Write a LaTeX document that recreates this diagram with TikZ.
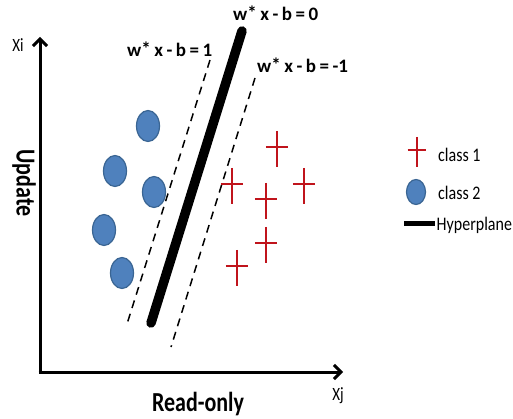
\documentclass[tikz,border=0pt]{standalone}
\usepackage{fontspec}
\setmainfont{Carlito}
\usetikzlibrary{arrows.meta,shapes.geometric}
\definecolor{dotblue}{HTML}{4F81BD}
\definecolor{dotedge}{HTML}{3A6593}
\definecolor{crossred}{HTML}{C0141C}
\newcommand{\tall}[2][1.25]{\scalebox{1}[#1]{#2}}
\newcommand{\eqtext}[1]{w\raisebox{1.5pt}{*}\hspace{3.5pt}x\hspace{3.5pt}-\hspace{3.5pt}b\hspace{3.5pt}=\hspace{3.5pt}#1}
\tikzset{
  axis/.style={line width=3pt,-{Straight Barb[length=7pt,width=14pt,line width=3pt]}},
  dot/.style={ellipse,fill=dotblue,draw=dotedge,line width=1.2pt,minimum width=23pt,minimum height=31pt,inner sep=0pt},
  plus/.style={minimum width=#1*0.62,minimum height=#1,inner sep=0pt,
    path picture={\draw[crossred,line width=2pt]
      (path picture bounding box.north) -- (path picture bounding box.south)
      ([yshift=2pt]path picture bounding box.west) -- ([yshift=2pt]path picture bounding box.east);}},
  plus/.default=36pt,
  hyper/.style={line width=9.5pt,line cap=round},
  margin/.style={line width=1.5pt,dash pattern=on 8pt off 6pt},
  eqlabel/.style={font=\fontsize{19}{21}\selectfont\bfseries,inner sep=0pt,anchor=base west},
  axlabel/.style={font=\fontsize{22}{24}\selectfont\bfseries,inner sep=0pt},
  varlabel/.style={font=\fontsize{15}{17}\selectfont,inner sep=0pt},
  leg/.style={font=\fontsize{16}{18}\selectfont,inner sep=0pt,anchor=base west}
}
\begin{document}
\begin{tikzpicture}[x=1pt,y=-1pt]
\useasboundingbox (0,0) rectangle (513,419);
% axes
\coordinate (O) at (40,372);
\coordinate (ytop) at (40,37);
\coordinate (xend) at (343,372);
\draw[axis] (O) -- (ytop);
\draw[axis] ([xshift=-1.5pt]O) -- (xend);
\node[varlabel] (xi) at (18,45) {\tall{Xi}};
\node[varlabel] (xj) at (338,396) {\tall{Xj}};
\node[axlabel,rotate=-90] (upd) at (24,183) {\tall{Update}};
\node[axlabel,anchor=base] (ro) at (198,411) {\tall{Read-only}};
% hyperplane and margins
\coordinate (h1) at (242,31);
\coordinate (h2) at (151,323);
\coordinate (l1) at (210,60);
\coordinate (l2) at (127,324);
\coordinate (r1) at (255,78);
\coordinate (r2) at (171,347);
\draw[margin] (l1) -- (l2);
\draw[margin] (r1) -- (r2);
\draw[hyper] (h1) -- (h2);
\node[eqlabel] (e0) at (233,21) {\eqtext{0}};
\node[eqlabel] (e1) at (127,57) {\eqtext{1}};
\node[eqlabel] (e2) at (257,73) {\eqtext{-1}};
% class 2 dots
\node[dot] (d1) at (148,126) {};
\node[dot] (d2) at (115,171) {};
\node[dot] (d3) at (154,192) {};
\node[dot] (d4) at (104,230) {};
\node[dot] (d5) at (122,273) {};
% class 1 crosses
\node[plus] (p1) at (277,149) {};
\node[plus] (p2) at (232,186) {};
\node[plus] (p3) at (304,186) {};
\node[plus] (p4) at (266,201) {};
\node[plus] (p5) at (266,245) {};
\node[plus] (p6) at (237,268) {};
% legend
\node[plus=30pt] (lp) at (417,152) {};
\node[leg] (lt1) at (438,162) {\tall[1.2]{class 1}};
\node[dot,minimum width=19pt,minimum height=25pt] (ld) at (416,192) {};
\node[leg] (lt2) at (438,200) {\tall[1.2]{class 2}};
\coordinate (lh1) at (404,224);
\coordinate (lh2) at (435,224);
\draw[line width=5pt] (lh1) -- (lh2);
\node[leg] (lt3) at (436.5,231) {\tall[1.2]{Hyperplane}};
\end{tikzpicture}
\end{document}
